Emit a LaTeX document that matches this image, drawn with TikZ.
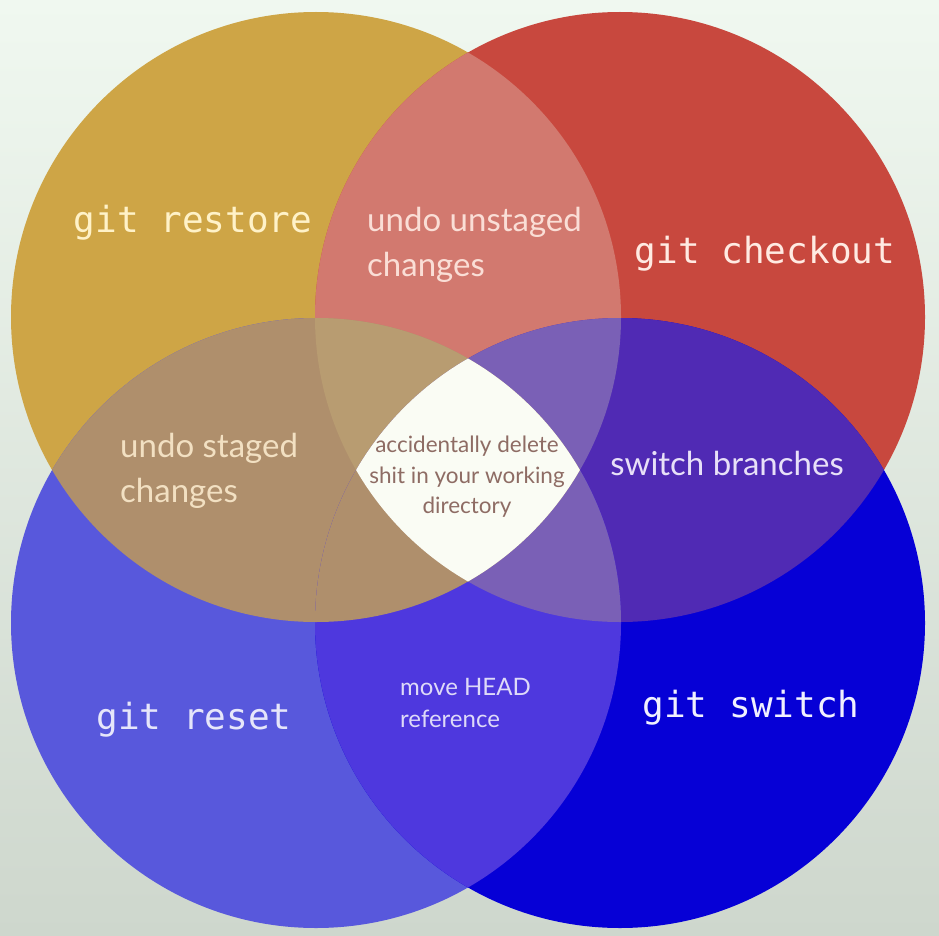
\documentclass[tikz,border=0pt]{standalone}
\usepackage{fontspec}
\setmainfont{Lato}
\newfontfamily\codefont{DejaVu Sans Mono}

\definecolor{bgtop}{RGB}{240,248,240}
\definecolor{bgbottom}{RGB}{206,215,205}
\definecolor{colgold}{RGB}{206,165,70}
\definecolor{colred}{RGB}{200,72,62}
\definecolor{colblue}{RGB}{88,88,220}
\definecolor{coldeep}{RGB}{6,0,214}
\definecolor{colpink}{RGB}{210,121,111}
\definecolor{coltan}{RGB}{175,143,108}
\definecolor{colgoldtan}{RGB}{184,156,113}
\definecolor{colpurple}{RGB}{80,42,180}
\definecolor{colviolet}{RGB}{78,56,222}
\definecolor{collavender}{RGB}{122,96,182}
\definecolor{colcentre}{RGB}{250,252,244}
\definecolor{txtcentre}{RGB}{142,108,100}

\tikzset{
  command/.style={font=\codefont\fontsize{36}{40}\selectfont, anchor=base, inner sep=0pt},
  effect/.style={font=\fontsize{33}{45}\selectfont, align=left, anchor=west, inner sep=0pt},
}

\begin{document}
\begin{tikzpicture}[x=1pt,y=-1pt]
  \useasboundingbox (0,0) rectangle (939,936);
  \shade [top color=bgtop, bottom color=bgbottom] (0,0) rectangle (939,936);

  \def\circrad{305}
  \coordinate (restore) at (316,317);
  \coordinate (checkout) at (620,317);
  \coordinate (reset) at (316,623);
  \coordinate (switch) at (620,623);

  % the four commands
  \fill [colgold] (restore) circle (\circrad);
  \fill [colred] (checkout) circle (\circrad);
  \fill [colblue] (reset) circle (\circrad);
  \fill [coldeep] (switch) circle (\circrad);

  % two at a time
  \begin{scope}
    \clip (restore) circle (\circrad);
    \fill [colpink] (checkout) circle (\circrad);
    \fill [coltan] (reset) circle (\circrad);
  \end{scope}
  \begin{scope}
    \clip (switch) circle (\circrad);
    \fill [colpurple] (checkout) circle (\circrad);
    \fill [colviolet] (reset) circle (\circrad);
  \end{scope}

  % three at a time
  \begin{scope}
    \clip (restore) circle (\circrad);
    \clip (checkout) circle (\circrad);
    \fill [colgoldtan] (reset) circle (\circrad);
    \fill [collavender] (switch) circle (\circrad);
  \end{scope}
  \begin{scope}
    \clip (reset) circle (\circrad);
    \clip (switch) circle (\circrad);
    \fill [collavender] (checkout) circle (\circrad);
    \fill [coltan] (restore) circle (\circrad);
  \end{scope}

  % all four
  \begin{scope}
    \clip (restore) circle (\circrad);
    \clip (checkout) circle (\circrad);
    \clip (reset) circle (\circrad);
    \fill [colcentre] (switch) circle (\circrad);
  \end{scope}

  \node [command, text={rgb,255:red,255;green,242;blue,200}] (restoretxt) at (193,232) {git restore};
  \node [command, text={rgb,255:red,255;green,234;blue,226}] (checkouttxt) at (765,263) {git checkout};
  \node [command, text={rgb,255:red,230;green,230;blue,250}] (resettxt) at (194,729) {git reset};
  \node [command, text={rgb,255:red,240;green,240;blue,255}] (switchtxt) at (751,717) {git switch};

  \node [effect, text={rgb,255:red,250;green,222;blue,214}] (unstaged) at (367,245) {undo unstaged\\changes};
  \node [effect, text={rgb,255:red,242;green,224;blue,194}] (staged) at (120,471) {undo staged\\changes};
  \node [effect, anchor=base, text={rgb,255:red,232;green,224;blue,248}] (branches) at (727,475) {switch branches};
  \node [effect, font=\fontsize{24}{32}\selectfont, text={rgb,255:red,222;green,218;blue,248}] (head) at (400,703) {move HEAD\\reference};
  \node [font=\fontsize{22.5}{30.5}\selectfont, align=center, inner sep=0pt, text=txtcentre] (accident) at (467,477) {accidentally delete\\shit in your working\\directory};
\end{tikzpicture}
\end{document}
